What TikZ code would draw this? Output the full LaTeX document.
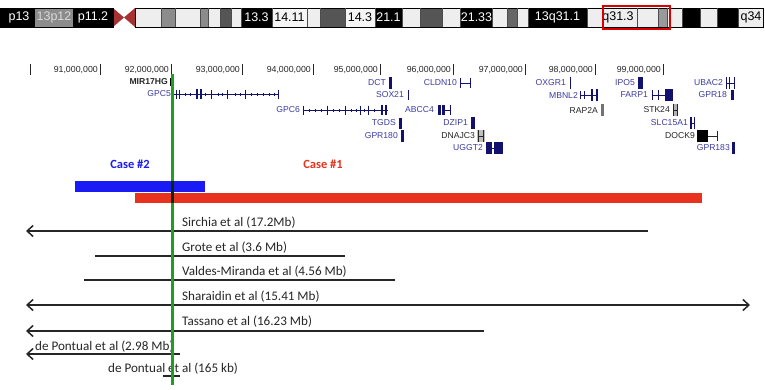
\documentclass[tikz,border=0pt]{standalone}
\usepackage{fontspec}
\setmainfont{Liberation Sans}
\newfontfamily\calfont{Carlito}
\usetikzlibrary{arrows.meta}
\definecolor{geneblue}{HTML}{3C3CA0}
\definecolor{genebox}{HTML}{12126E}
\definecolor{bandw}{HTML}{EEEEEE}
\definecolor{bandg}{HTML}{8C8C8C}
\definecolor{bandd}{HTML}{555555}
\definecolor{cenred}{HTML}{A83232}
\definecolor{caseblue}{HTML}{1A1AF5}
\definecolor{casered}{HTML}{E8321E}
\definecolor{grn}{HTML}{1F9E1F}
\tikzset{
  gname/.style={font=\fontsize{8.6}{9}\selectfont, text=geneblue, inner sep=0pt, anchor=east},
  kname/.style={gname, text=black!85},
  tlabel/.style={font=\fontsize{8.8}{9}\selectfont, inner sep=0pt, anchor=east, text=black!85},
  bandtxt/.style={font=\fontsize{12.5}{13}\selectfont, inner sep=0pt},
  gl/.style={draw=genebox, line width=0.8pt},
  gk/.style={draw=black!85, line width=0.8pt},
  study/.style={font=\calfont\fontsize{13.1}{15}\selectfont, inner sep=0pt, anchor=base west, text=black!85},
  sline/.style={line width=1.5pt, draw=black!85},
  barb/.tip={Straight Barb[length=6pt,width=11pt]},
  casetxt/.style={font=\calfont\bfseries\fontsize{12.5}{14}\selectfont, inner sep=0pt}
}
\begin{document}
\begin{tikzpicture}[x=1pt,y=-1pt]
\useasboundingbox (0,0) rectangle (765,389);
\fill[white] (0,0) rectangle (765,389);
% ---------- ideogram ----------
\fill[black] (0,8) rectangle (35,27);
\fill[bandg] (35,8) rectangle (73,27);
\fill[black] (73,8) rectangle (113,27);
\fill[cenred] (113,8) -- (124,17.5) -- (113,27) -- cycle;
\fill[cenred] (135,8) -- (124,17.5) -- (135,27) -- cycle;
\fill[bandw] (135,8) rectangle (161,27);
\fill[bandg] (161,8) rectangle (175,27);
\fill[bandw] (175,8) rectangle (200,27);
\fill[bandg] (200,8) rectangle (208,27);
\fill[bandw] (208,8) rectangle (220,27);
\fill[bandd] (220,8) rectangle (231,27);
\fill[bandw] (231,8) rectangle (241,27);
\fill[black] (241,8) rectangle (272,27);
\fill[black!4] (272,8) rectangle (307,27);
\fill[bandw] (307,8) rectangle (320,27);
\fill[bandd] (320,8) rectangle (345,27);
\fill[black!4] (345,8) rectangle (375,27);
\fill[black] (375,8) rectangle (402,27);
\fill[bandw] (402,8) rectangle (420,27);
\fill[bandd] (420,8) rectangle (442,27);
\fill[bandw] (442,8) rectangle (460,27);
\fill[black] (460,8) rectangle (492,27);
\fill[bandw] (492,8) rectangle (507,27);
\fill[black!60] (507,8) rectangle (517,27);
\fill[bandw] (517,8) rectangle (528,27);
\fill[black] (528,8) rectangle (587,27);
\fill[bandw] (587,8) rectangle (658,27);
\fill[black!40] (658,8) rectangle (667,27);
\fill[bandw] (667,8) rectangle (682,27);
\fill[black] (682,8) rectangle (700,27);
\fill[bandw] (700,8) rectangle (717,27);
\fill[black] (717,8) rectangle (738,27);
\fill[bandw] (738,8) rectangle (763,27);
\draw[black, line width=0.6pt] (135,8) rectangle (763,27);
\draw[black, line width=0.6pt] (0,8) rectangle (113,27);
\foreach \x in {161,175,200,208,220,231,241,272,307,320,345,375,402,420,442,460,492,507,517,528,587,603,637,658,667,682,700,717,738}
  \draw[black!70, line width=0.4pt] (\x,8) -- (\x,27);
\node[bandtxt, text=white] (b1) at (19,17.5) {p13};
\node[bandtxt, text=black!15] (b2) at (54,17.5) {13p12};
\node[bandtxt, text=white] (b3) at (93,17.5) {p11.2};
\node[bandtxt, text=white] (b4) at (256.5,17.5) {13.3};
\node[bandtxt, text=black] (b5) at (289.5,17.5) {14.11};
\node[bandtxt, text=black] (b6) at (360,17.5) {14.3};
\node[bandtxt, text=white] (b7) at (388.5,17.5) {21.1};
\node[bandtxt, text=white] (b8) at (476.5,17.5) {21.33};
\node[bandtxt, text=white] (b9) at (557.5,17.5) {13q31.1};
\node[bandtxt, text=black] (b10) at (618,17.5) {q31.3};
\node[bandtxt, text=black] (b11) at (751,17.5) {q34};
\draw[red!85!black, line width=1.3pt] (603,6) rectangle (670,29);
% ---------- scale ----------
\foreach \x in {30,100,171,242,313,380,453,525,595,663}
  \draw[black!85, line width=0.7pt] (\x,64) -- (\x,75);
\node[tlabel] (t91) at (98,70) {91,000,000};
\node[tlabel] (t92) at (169,70) {92,000,000};
\node[tlabel] (t93) at (240,70) {93,000,000};
\node[tlabel] (t94) at (311,70) {94,000,000};
\node[tlabel] (t95) at (378,70) {95,000,000};
\node[tlabel] (t96) at (451,70) {96,000,000};
\node[tlabel] (t97) at (523,70) {97,000,000};
\node[tlabel] (t98) at (593,70) {98,000,000};
\node[tlabel] (t99) at (661,70) {99,000,000};
% ---------- genes ----------
\node[kname, font=\bfseries\fontsize{8.6}{9}\selectfont] (mir) at (168,82) {MIR17HG};
\fill[black] (169.5,78) rectangle (172.5,86);
\node[gname] (gpc5) at (171,94) {GPC5};
\draw[gl] (172,94) -- (278,94);
\foreach \x in {176,179,211,227,245,278} \draw[gl] (\x,89.5) -- (\x,98.5);
\fill[genebox] (196,89) rectangle (198,99);
\fill[genebox] (199.5,89) rectangle (201.5,99);
\foreach \x in {185,190,205,218,222,235,240,251,257,263,269,274} \draw[gl] (\x,92.5) -- (\x,95.5);
\node[gname] (gpc6) at (300,110) {GPC6};
\draw[gl] (303,110) -- (388,110);
\foreach \x in {303,327,345,360,368} \draw[gl] (\x,105.5) -- (\x,114.5);
\fill[genebox] (381,105) rectangle (383,115);
\fill[genebox] (385,105) rectangle (387,115);
\foreach \x in {309,315,321,333,339,351,356,364,374} \draw[gl] (\x,108.5) -- (\x,111.5);
\node[gname] (dct) at (386,83) {DCT};
\fill[genebox] (389,77) rectangle (392,89);
\node[gname] (sox21) at (404,95) {SOX21};
\draw[gl] (408,90) -- (408,100);
\node[gname] (abcc4) at (434,110) {ABCC4};
\fill[genebox] (438,105) rectangle (445,115);
\draw[gl] (445,110) -- (450,110); \draw[gl] (450,105) -- (450,115);
\draw[white, line width=0.8pt] (441.5,105) -- (441.5,115);
\node[gname] (tgds) at (396,123) {TGDS};
\fill[genebox] (398.5,118) rectangle (401.5,129);
\node[gname] (gpr180) at (398,136) {GPR180};
\fill[genebox] (401,130) rectangle (404,142);
\node[gname] (cldn10) at (457,83) {CLDN10};
\draw[gl] (460,83) -- (470,83); \draw[gl] (460,78) -- (460,88); \draw[gl] (470,78) -- (470,88);
\node[gname] (dzip1) at (468,123) {DZIP1};
\fill[genebox] (471,117) rectangle (475,129);
\node[kname] (dnajc3) at (475,136) {DNAJC3};
\fill[black!25] (477,130) rectangle (485,142);
\draw[gk] (478.5,130) -- (478.5,142); \draw[gk] (483.5,130) -- (483.5,142); \draw[gk] (478.5,136) -- (483.5,136);
\node[gname] (uggt2) at (483,148) {UGGT2};
\fill[genebox] (486,142) rectangle (492,154);
\fill[genebox] (494,142) rectangle (503,154);
\draw[gl] (492,148) -- (494,148);
\node[gname] (oxgr1) at (566,83) {OXGR1};
\draw[gl] (570,77) -- (570,89);
\node[gname] (mbnl2) at (578,95) {MBNL2};
\draw[gl] (580,95) -- (598,95);
\foreach \x in {580,584} \draw[gl] (\x,91) -- (\x,99);
\fill[genebox] (590.5,89) rectangle (592.5,101);
\fill[genebox] (595.5,89) rectangle (597.5,101);
\node[kname] (rap2a) at (598,110) {RAP2A};
\fill[black!55] (601,104) rectangle (604,116);
\node[gname] (ipo5) at (635,83) {IPO5};
\fill[genebox] (638,77) rectangle (643,89);
\node[gname] (farp1) at (648,95) {FARP1};
\draw[gl] (652,95) -- (665,95);
\foreach \x in {652,658} \draw[gl] (\x,90) -- (\x,100);
\fill[genebox] (665,89) rectangle (673,101);
\node[kname] (stk24) at (670,110) {STK24};
\fill[black!30] (673,104) rectangle (678,116);
\draw[gk] (673.5,104) -- (673.5,116); \draw[gk] (677.5,104) -- (677.5,116); \draw[gk] (673.5,110) -- (677.5,110);
\node[gname] (slc15a1) at (688,123) {SLC15A1};
\draw[gl] (690.5,117) -- (690.5,129); \draw[gl] (694.5,117) -- (694.5,129); \draw[gl] (690.5,123) -- (694.5,123);
\fill[genebox] (690,117) rectangle (692,129);
\node[kname] (dock9) at (695,136) {DOCK9};
\fill[black] (697,130) rectangle (708,142);
\draw[gk] (708,136) -- (717,136); \draw[gk] (717,131) -- (717,141);
\node[gname] (gpr183) at (730,148) {GPR183};
\fill[genebox] (732,142) rectangle (734.5,154);
\node[gname] (ubac2) at (723,83) {UBAC2};
\draw[gl] (726.5,77) -- (726.5,89); \draw[gl] (729.5,77) -- (729.5,89); \draw[gl] (734.5,77) -- (734.5,89);
\draw[gl] (726.5,83) -- (734.5,83);
\node[gname] (gpr18) at (727,95) {GPR18};
\fill[genebox] (731,90) rectangle (733.5,100);
% ---------- cases ----------
\node[casetxt, text=caseblue] (case2) at (130,164) {Case \#2};
\node[casetxt, text=casered] (case1) at (323,164) {Case \#1};
\fill[caseblue] (75,181) rectangle (205,192);
\fill[casered] (135,193) rectangle (702,203);
% ---------- studies ----------
\coordinate (sirL) at (26,231); \coordinate (sirR) at (648,231);
\draw[sline, barb-] (sirL) -- (sirR);
\node[study] (sir) at (182,226) {Sirchia et al (17.2Mb)};
\coordinate (groL) at (95,256); \coordinate (groR) at (345,256);
\draw[sline] (groL) -- (groR);
\node[study] (gro) at (182,251) {Grote et al (3.6 Mb)};
\coordinate (valL) at (84,280); \coordinate (valR) at (395,280);
\draw[sline] (valL) -- (valR);
\node[study] (val) at (182,275) {Valdes-Miranda et al (4.56 Mb)};
\coordinate (shaL) at (26,305); \coordinate (shaR) at (750,305);
\draw[sline, barb-barb] (shaL) -- (shaR);
\node[study] (sha) at (182,300) {Sharaidin et al (15.41 Mb)};
\coordinate (tasL) at (26,331); \coordinate (tasR) at (484,331);
\draw[sline, barb-] (tasL) -- (tasR);
\node[study] (tas) at (182,325) {Tassano et al (16.23 Mb)};
\coordinate (dp1L) at (26,354); \coordinate (dp1R) at (180,354);
\draw[sline, barb-] (dp1L) -- (dp1R);
\node[study] (dp1) at (35,350) {de Pontual et al (2.98 Mb)};
\coordinate (dp2L) at (163,376); \coordinate (dp2R) at (180,376);
\draw[sline] (dp2L) -- (dp2R);
\node[study] (dp2) at (108,372) {de Pontual et al (165 kb)};
% ---------- green marker ----------
\coordinate (gT) at (172,74); \coordinate (gB) at (172,385);
\draw[grn, line width=3pt] (gT) -- (gB);
\draw[black!75!grn, line width=3pt] (172,181) -- (172,203);
\end{tikzpicture}
\end{document}
